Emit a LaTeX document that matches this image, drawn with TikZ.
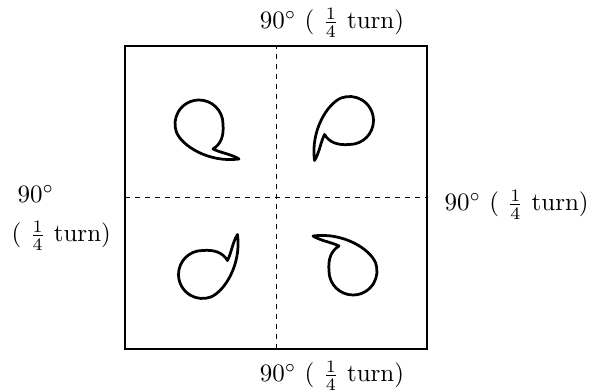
\documentclass[tikz,border=0pt]{standalone}

\newcommand{\quarterturn}{90$^\circ$ ( $\frac{1}{4}$ turn)}

\begin{document}
\begin{tikzpicture}[x=0.4pt, y=0.4pt,
  blob/.style={line width=1.1pt, line join=round},
  midline/.style={dash pattern=on 2pt off 2pt, line width=0.4pt},
  turnlabel/.style={inner sep=0pt, font=\normalsize}]

\useasboundingbox (0,0) rectangle (594,392);

\draw[line width=0.6pt] (125,43) rectangle (427,346);
\draw[midline] (276,43) -- (276,346);
\draw[midline] (125,194.5) -- (427,194.5);

% four drops, each a quarter turn on from the last
\foreach \ang in {0,-90,180,90} {
  \draw[blob, shift={(276,194.5)}, rotate=\ang, shift={(-77,73.5)}]
    (14,-25) .. controls (22,-20) and (25,-12) .. (24,0)
    arc (0:200:24)
    .. controls (-17,-22) and (10,-39) .. (40,-35)
    .. controls (32,-30) and (22,-29) .. cycle;
}

\node[turnlabel, anchor=base] (topturn) at (332,363) {\quarterturn};
\node[turnlabel, anchor=base] (botturn) at (332,10) {\quarterturn};
\node[turnlabel, anchor=base west] (rightturn) at (444,181) {\quarterturn};
\node[turnlabel, anchor=base west] (leftdeg) at (17,189) {90$^\circ$};
\node[turnlabel, anchor=base west] (leftturn) at (11,150) {( $\frac{1}{4}$ turn)};

\end{tikzpicture}
\end{document}
